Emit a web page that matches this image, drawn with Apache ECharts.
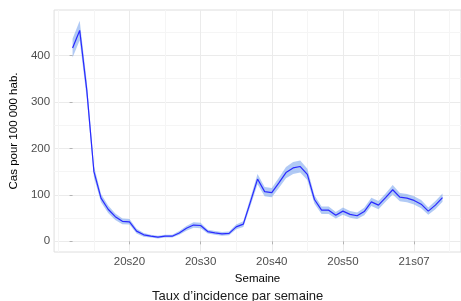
<!DOCTYPE html>
<html>
<head>
<meta charset="utf-8">
<script src="https://cdn.jsdelivr.net/npm/echarts@6/dist/echarts.min.js"></script>
<style>html,body{margin:0;padding:0;background:#fff;}#c{width:461px;height:301px;}</style>
</head>
<body>
<div id="c"></div>
<script>
const weeks = ["20s12","20s13","20s14","20s15","20s16","20s17","20s18","20s19","20s20","20s21",
  "20s22","20s23","20s24","20s25","20s26","20s27","20s28","20s29","20s30","20s31",
  "20s32","20s33","20s34","20s35","20s36","20s37","20s38","20s39","20s40","20s41",
  "20s42","20s43","20s44","20s45","20s46","20s47","20s48","20s49","20s50","20s51",
  "20s52","20s53","21s01","21s02","21s03","21s04","21s05","21s06","21s07","21s08",
  "21s09","21s10","21s11"];
const rate = [416,454,325,150,93,69,53,43,42,22,14,11,9,11,11,18,28,35,34,21,18,16,17,31,37,85,134,107,105,126,148,158,161,144,90,67,67,56,65,58,55,64,85,78,94,111,95,93,88,80,65,78,94];
const lower = [396,433,307,138,84,61,46,37,36,17,10,8,6,8,8,14,23,29,28,17,14,12,13,26,31,76,123,97,95,115,136,145,148,132,81,59,59,49,57,51,48,56,76,69,85,101,86,84,79,71,57,69,85];
const upper = [436,475,343,162,102,77,60,49,48,27,18,14,12,14,14,22,33,41,40,25,22,20,21,36,43,94,145,117,115,137,160,171,174,156,99,75,75,63,73,65,62,72,94,87,103,121,104,102,97,89,73,87,103];
const xMajor = ["20s20","20s30","20s40","20s50","21s07"];
const xMinor = ["20s15","20s25","20s35","20s45","21s02","21s12"];
const yMajor = [0,100,200,300,400];
const yMinor = [50,150,250,350,450];

const idx = w => { const i = weeks.indexOf(w); return i >= 0 ? i : (w === "21s12" ? weeks.length : -2); };
const majorIdx = xMajor.map(idx);
const minorIdx = [-2].concat(xMinor.map(idx));

const chart = echarts.init(document.getElementById('c'), null, {renderer:'canvas'});
const font = "'Liberation Sans', Arial, sans-serif";
const bandData = rate.map((v,i)=>[i, lower[i], upper[i]]);

chart.setOption({
  animation:false,
  backgroundColor:'#ffffff',
  title:{text:"Taux d’incidence par semaine", left:147, top:285,
    textStyle:{fontFamily:font, fontSize:13, fontWeight:'normal', color:'#1a1a1a'}},
  grid:{left:47.5, top:10, width:415, height:242, show:true, borderColor:'#dedede', borderWidth:1, backgroundColor:'transparent'},
  xAxis:[{
    type:'value', min:-2.6, max:54.6,
    name:'Semaine', nameLocation:'middle', nameGap:19,
    nameTextStyle:{fontFamily:font, fontSize:11.5, color:'#000'},
    axisLine:{show:false},
    axisTick:{show:true, length:3, customValues:majorIdx, lineStyle:{color:'#b3b3b3'}},
    axisLabel:{customValues:majorIdx, margin:4, fontFamily:font, fontSize:11.5, color:'#4d4d4d',
      formatter:v=>weeks[Math.round(v)]||''},
    splitLine:{show:true, lineStyle:{color:'#ebebeb', width:1}}
  },{
    type:'value', min:-2.6, max:54.6, position:'bottom',
    axisLine:{show:false}, axisTick:{show:false, customValues:minorIdx},
    axisLabel:{show:false, customValues:minorIdx},
    splitLine:{show:true, lineStyle:{color:'#f5f5f5', width:1}}
  }],
  yAxis:[{
    type:'value', min:-23, max:498,
    name:'Cas pour 100 000 hab.', nameLocation:'middle', nameGap:21,
    nameTextStyle:{fontFamily:font, fontSize:11.5, color:'#000'},
    axisLine:{show:false},
    axisTick:{show:true, length:3, customValues:yMajor, lineStyle:{color:'#b3b3b3'}},
    axisLabel:{customValues:yMajor, margin:4, fontFamily:font, fontSize:11.5, color:'#4d4d4d'},
    splitLine:{show:true, lineStyle:{color:'#ebebeb', width:1}}
  },{
    type:'value', min:-23, max:498, position:'left',
    axisLine:{show:false}, axisTick:{show:false, customValues:yMinor},
    axisLabel:{show:false, customValues:yMinor},
    splitLine:{show:true, lineStyle:{color:'#f5f5f5', width:1}}
  }],
  series:[{
    type:'custom', xAxisIndex:0, yAxisIndex:0, z:2, silent:true,
    data: bandData,
    renderItem:(params, api)=>{
      if (params.dataIndex !== 0) return null;
      const top = bandData.map(d=>api.coord([d[0], d[2]]));
      const bot = bandData.slice().reverse().map(d=>api.coord([d[0], d[1]]));
      return {type:'polygon', shape:{points:top.concat(bot)}, style:{fill:'rgba(100,150,235,0.5)', stroke:null}};
    }
  },{
    type:'line', xAxisIndex:0, yAxisIndex:0, z:3, silent:true,
    data: rate.map((v,i)=>[i,v]),
    showSymbol:false, symbol:'none',
    lineStyle:{color:'#2a2aff', width:1.2}
  }]
});
</script>
</body>
</html>
